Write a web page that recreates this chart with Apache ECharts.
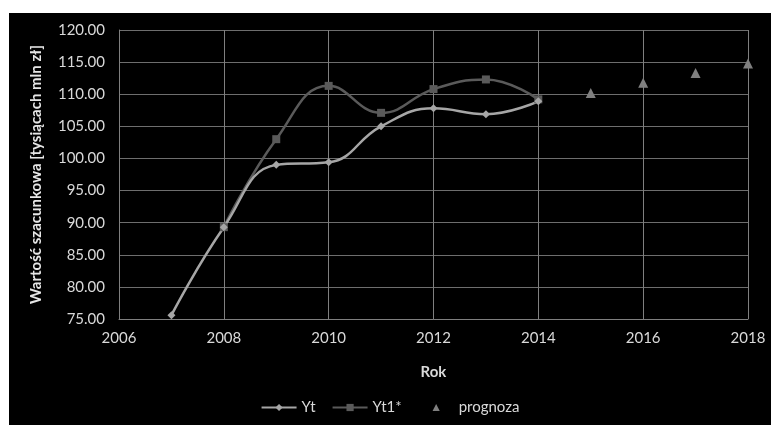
<!DOCTYPE html>
<html>
<head>
<meta charset="utf-8">
<script src="https://cdn.jsdelivr.net/npm/echarts@6/dist/echarts.min.js"></script>
<style>
  html, body { margin: 0; padding: 0; background: #fff; }
  #chart { position: absolute; left: 9px; top: 13px; width: 762px; height: 412px; }
</style>
</head>
<body>
<div id="chart"></div>
<script>
// Estimated value (thousands of mln zł) by year
const years = [2007, 2008, 2009, 2010, 2011, 2012, 2013, 2014];
const yt = [75.6, 89.3, 99.0, 99.4, 105.0, 107.8, 106.9, 108.9];
const yt1Years = [2008, 2009, 2010, 2011, 2012, 2013, 2014];
const yt1 = [89.3, 103.0, 111.3, 107.1, 110.8, 112.3, 109.2];
const forecastYears = [2015, 2016, 2017, 2018];
const forecast = [110.2, 111.8, 113.3, 114.8];

const pairs = (xs, ys) => xs.map((x, i) => [x, ys[i]]);

const labelFont = 'Lato';
const chart = echarts.init(document.getElementById('chart'));
chart.setOption({
  backgroundColor: '#000',
  animation: false,
  textStyle: { fontFamily: labelFont },
  grid: { left: 110, top: 17, right: 23, bottom: 106 },
  xAxis: {
    type: 'value', min: 2006, max: 2018, interval: 2,
    name: 'Rok', nameLocation: 'middle', nameGap: 46,
    nameTextStyle: { color: '#d9d9d9', fontSize: 15, fontWeight: 'bold', fontFamily: labelFont },
    axisLine: { lineStyle: { color: '#7f7f7f' } },
    axisTick: { show: false },
    axisLabel: { color: '#d9d9d9', fontSize: 15, margin: 12, formatter: v => String(v) },
    splitLine: { lineStyle: { color: '#7f7f7f', width: 1 } }
  },
  yAxis: {
    type: 'value', min: 75, max: 120, interval: 5,
    name: 'Wartość szacunkowa [tysiącach mln zł]', nameLocation: 'middle', nameGap: 75,
    nameTextStyle: { color: '#e6e6e6', fontSize: 15, fontWeight: 'bold', fontFamily: labelFont },
    axisLine: { show: true, lineStyle: { color: '#7f7f7f' } },
    axisTick: { show: false },
    axisLabel: { color: '#d9d9d9', fontSize: 15, margin: 14, formatter: v => v.toFixed(2) },
    splitLine: { lineStyle: { color: '#6e6e6e', width: 1 } }
  },
  legend: {
    bottom: 5, left: 'center', itemWidth: 35, itemHeight: 9, itemGap: 16,
    textStyle: { color: '#d9d9d9', fontSize: 15, fontFamily: labelFont },
    data: ['Yt', 'Yt1*', 'prognoza']
  },
  series: [
    {
      name: 'Yt1*', type: 'line', smooth: 0.45, data: pairs(yt1Years, yt1),
      symbol: 'rect', symbolSize: 8,
      lineStyle: { color: '#5a5a5a', width: 2.5 },
      itemStyle: { color: '#5a5a5a' }
    },
    {
      name: 'Yt', type: 'line', smooth: 0.45, data: pairs(years, yt),
      symbol: 'diamond', symbolSize: 8,
      lineStyle: { color: '#a6a6a6', width: 2.5 },
      itemStyle: { color: '#a6a6a6' }
    },
    {
      // markers only: the connecting line is hidden
      name: 'prognoza', type: 'line', data: pairs(forecastYears, forecast),
      symbol: 'triangle', symbolSize: 10, showAllSymbol: true,
      lineStyle: { opacity: 0 },
      itemStyle: { color: '#7f7f7f' }
    }
  ]
});
</script>
</body>
</html>
